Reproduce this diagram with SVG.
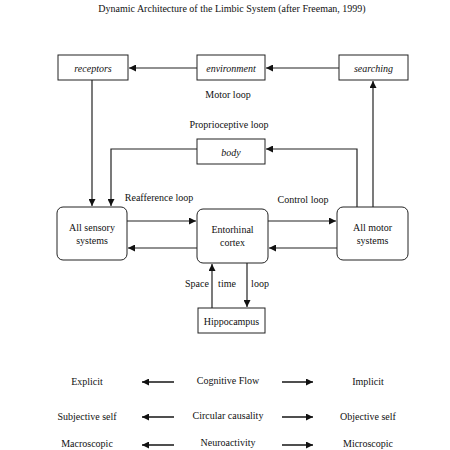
<svg xmlns="http://www.w3.org/2000/svg" width="450" height="450" viewBox="0 0 450 450">
<style>
text{font-family:"Liberation Serif","Times New Roman",serif;font-size:10px;fill:#111;text-anchor:middle}
.it{font-style:italic}
.box{fill:#fff;stroke:#222;stroke-width:1}
.ln{fill:none;stroke:#222;stroke-width:1.2}
.bl{fill:none;stroke:#222;stroke-width:1.6}
</style>
<defs>
<marker id="ah" viewBox="0 0 10 10" refX="10" refY="5" markerWidth="8" markerHeight="7" markerUnits="userSpaceOnUse" orient="auto">
<path d="M0,0 L10,5 L0,10 Z" fill="#111"/>
</marker>
<marker id="ah2" viewBox="0 0 10 10" refX="10" refY="5" markerWidth="9" markerHeight="7" markerUnits="userSpaceOnUse" orient="auto">
<path d="M0,0 L10,5 L0,10 Z" fill="#111"/>
</marker>
</defs>
<rect width="450" height="450" fill="#fff"/>
<text x="232" y="12">Dynamic Architecture of the Limbic System (after Freeman, 1999)</text>

<g id="connectors">
<line class="ln" x1="197" y1="68" x2="129" y2="68" marker-end="url(#ah)"/>
<line class="ln" x1="339" y1="68" x2="266" y2="68" marker-end="url(#ah)"/>
<line class="ln" x1="92" y1="80" x2="92" y2="206" marker-end="url(#ah)"/>
<polyline class="ln" points="197,149 111,149 111,206" marker-end="url(#ah)"/>
<polyline class="ln" points="357,207 357,149 266,149" marker-end="url(#ah)"/>
<line class="ln" x1="373" y1="207" x2="373" y2="81" marker-end="url(#ah)"/>
<line class="ln" x1="127" y1="221" x2="196" y2="221" marker-end="url(#ah)"/>
<line class="ln" x1="197" y1="248" x2="128" y2="248" marker-end="url(#ah)"/>
<line class="ln" x1="268" y1="221" x2="336" y2="221" marker-end="url(#ah)"/>
<line class="ln" x1="337" y1="248" x2="269" y2="248" marker-end="url(#ah)"/>
<line class="ln" x1="212" y1="308" x2="212" y2="264" marker-end="url(#ah)"/>
<line class="ln" x1="247" y1="263" x2="247" y2="307" marker-end="url(#ah)"/>
<line class="bl" x1="174" y1="382" x2="142" y2="382" marker-end="url(#ah2)"/>
<line class="bl" x1="282" y1="382" x2="313" y2="382" marker-end="url(#ah2)"/>
<line class="bl" x1="174" y1="417" x2="142" y2="417" marker-end="url(#ah2)"/>
<line class="bl" x1="282" y1="417" x2="313" y2="417" marker-end="url(#ah2)"/>
<line class="bl" x1="174" y1="445" x2="142" y2="445" marker-end="url(#ah2)"/>
<line class="bl" x1="282" y1="445" x2="313" y2="445" marker-end="url(#ah2)"/>
</g>

<g id="receptors"><rect class="box" x="58" y="55" width="70" height="25"/><text class="it" x="93" y="71.5">receptors</text></g>
<g id="environment"><rect class="box" x="197" y="55" width="68" height="25"/><text class="it" x="231" y="71.5">environment</text></g>
<g id="searching"><rect class="box" x="339" y="55" width="69" height="25"/><text class="it" x="373.5" y="71.5">searching</text></g>
<g id="body"><rect class="box" x="197" y="139" width="68" height="25"/><text class="it" x="231" y="155.5">body</text></g>
<g id="sensory"><rect class="box" x="57" y="207" width="70" height="53" rx="6"/><text x="92" y="231">All sensory</text><text x="92" y="244">systems</text></g>
<g id="entorhinal"><rect class="box" x="197" y="209" width="71" height="54" rx="6"/><text x="232.5" y="233">Entorhinal</text><text x="232.5" y="246">cortex</text></g>
<g id="motor"><rect class="box" x="337" y="207" width="71" height="53" rx="6"/><text x="372.5" y="231">All motor</text><text x="372.5" y="244">systems</text></g>
<g id="hippocampus"><rect class="box" x="198" y="308" width="67" height="25"/><text x="231.5" y="324.5">Hippocampus</text></g>

<text x="228" y="98">Motor loop</text>
<text x="229" y="128">Proprioceptive loop</text>
<text x="159" y="201">Reafference loop</text>
<text x="303" y="203">Control loop</text>
<text x="197" y="287">Space</text>
<text x="227" y="287">time</text>
<text x="260" y="287">loop</text>

<text x="87" y="385">Explicit</text>
<text x="228" y="384">Cognitive Flow</text>
<text x="368" y="385">Implicit</text>
<text x="87" y="420">Subjective self</text>
<text x="228" y="419">Circular causality</text>
<text x="368" y="420">Objective self</text>
<text x="87" y="447">Macroscopic</text>
<text x="228" y="446">Neuroactivity</text>
<text x="368" y="447">Microscopic</text>
</svg>
